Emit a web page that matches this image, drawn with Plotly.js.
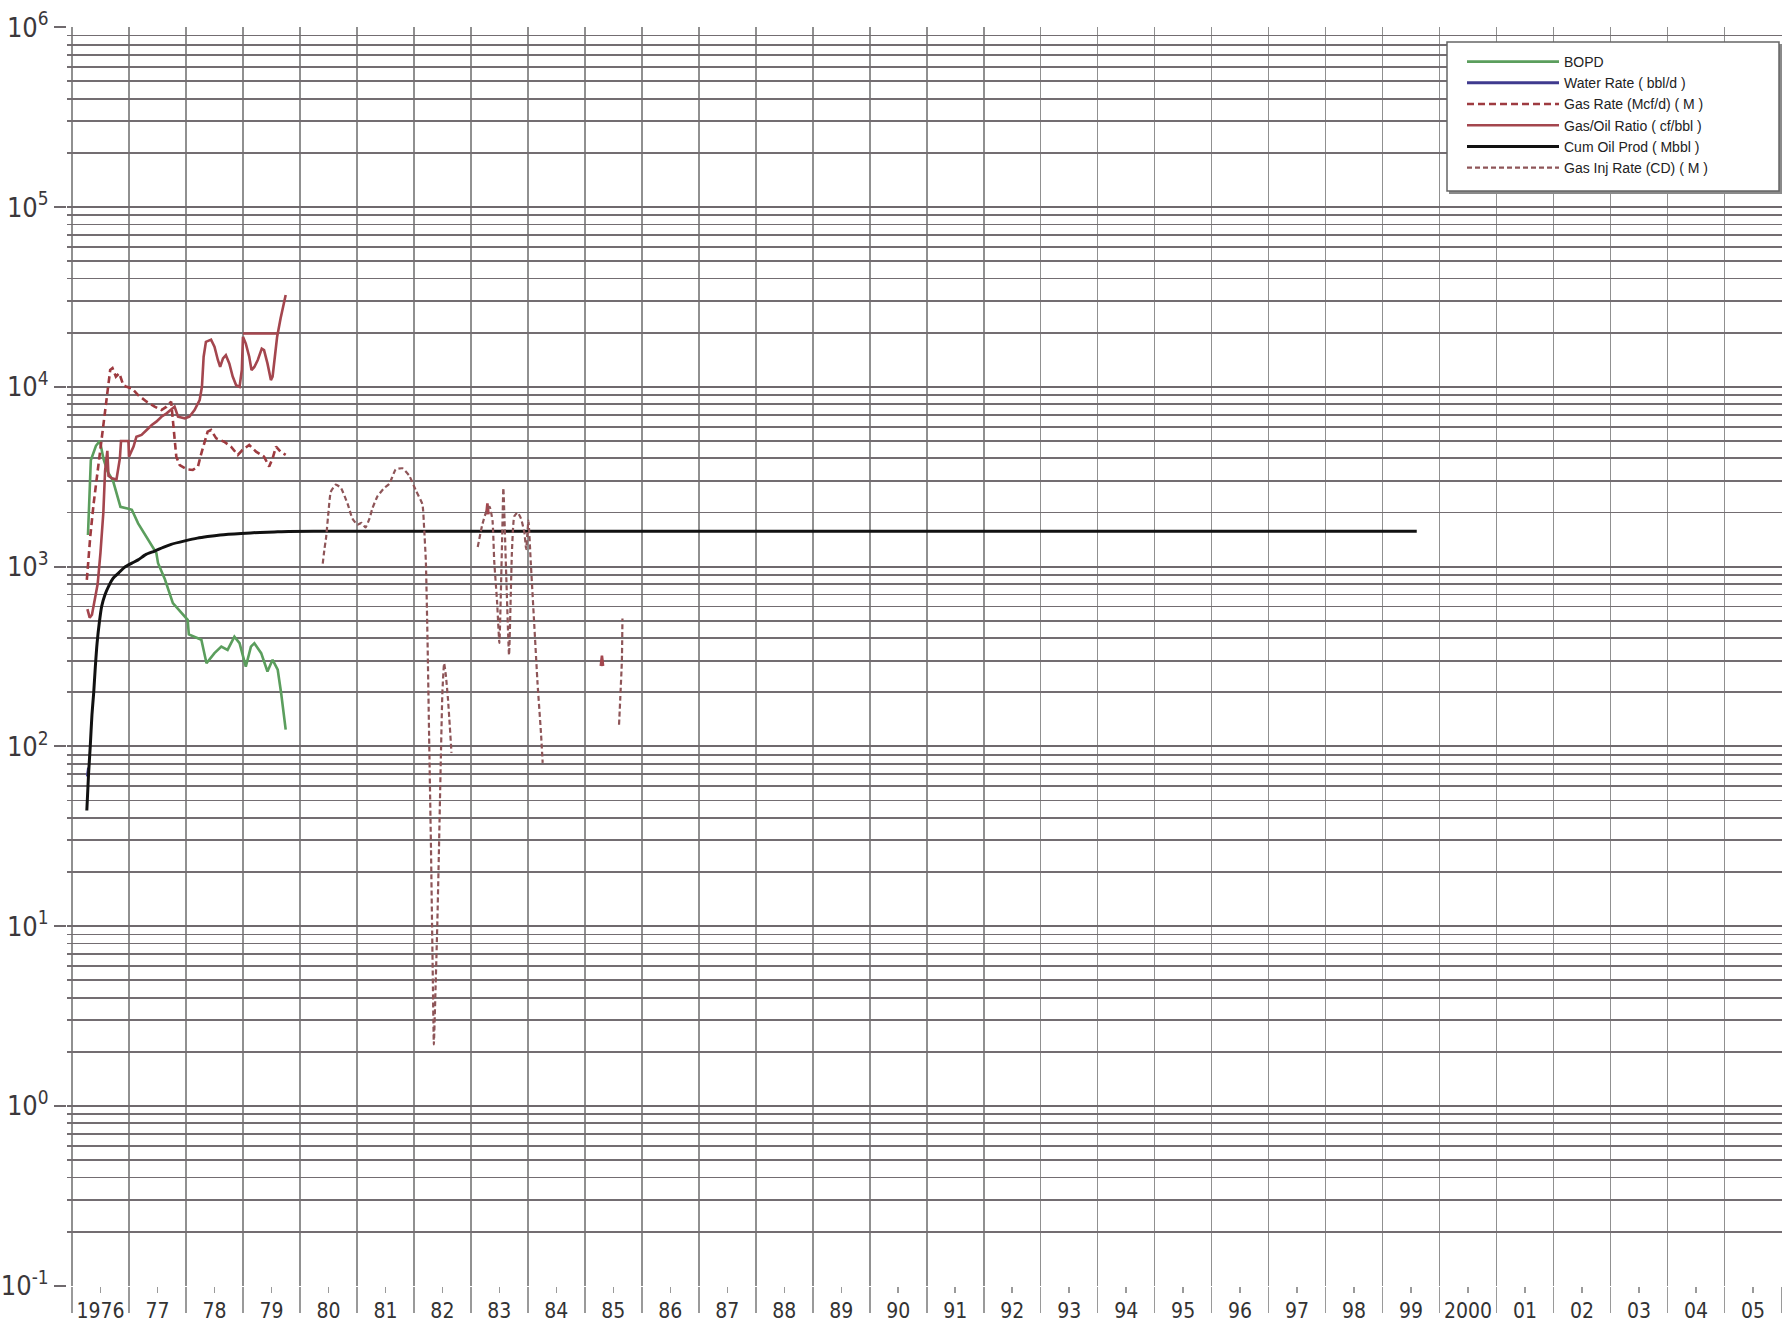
<!DOCTYPE html>
<html>
<head>
<meta charset="utf-8">
<script src="https://cdn.plot.ly/plotly-3.0.1.min.js"></script>
<style>
html,body{margin:0;padding:0;background:#fff;}
#chart{width:1790px;height:1325px;}
</style>
</head>
<body>
<div id="chart"></div>
<script>
// ---------- tick labels ----------
const yearLabelPositions = [1976.5,1977.5,1978.5,1979.5,1980.5,1981.5,1982.5,1983.5,1984.5,1985.5,1986.5,1987.5,1988.5,1989.5,1990.5,1991.5,1992.5,1993.5,1994.5,1995.5,1996.5,1997.5,1998.5,1999.5,2000.5,2001.5,2002.5,2003.5,2004.5,2005.5];
const yearLabels = ['1976','77','78','79','80','81','82','83','84','85','86','87','88','89','90','91','92','93','94','95','96','97','98','99','2000','01','02','03','04','05'];
const decadeValues = [0.1,1,10,100,1000,10000,100000,1000000];
const decadeLabels = ['10<sup>-1</sup>','10<sup>0</sup>','10<sup>1</sup>','10<sup>2</sup>','10<sup>3</sup>','10<sup>4</sup>','10<sup>5</sup>','10<sup>6</sup>'];

// ---------- series ----------
const bopdYears = [1976.28,1976.33,1976.42,1976.49,1976.55,1976.62,1976.72,1976.85,1976.99,1977.05,1977.16,1977.34,1977.48,1977.51,1977.63,1977.77,1977.90,1978.03,1978.05,1978.27,1978.36,1978.50,1978.62,1978.73,1978.85,1978.94,1979.05,1979.14,1979.20,1979.32,1979.43,1979.52,1979.61,1979.67,1979.75];
const bopdValues = [1500,3900,4700,5000,4000,3400,3000,2150,2100,2070,1740,1410,1190,1045,850,626,560,506,420,392,290,330,359,344,408,375,278,359,375,330,261,303,267,198,124];

const waterYears = [1976.27,1976.29];
const waterValues = [68,76];

const gasRateYears = [1976.26,1976.32,1976.38,1976.45,1976.52,1976.60,1976.64,1976.67,1976.71,1976.77,1976.83,1976.90,1976.96,1977.05,1977.16,1977.31,1977.45,1977.57,1977.66,1977.74,1977.77,1977.80,1977.83,1977.89,1978.01,1978.12,1978.21,1978.27,1978.33,1978.38,1978.44,1978.53,1978.67,1978.79,1978.91,1978.99,1979.11,1979.23,1979.37,1979.46,1979.52,1979.58,1979.66,1979.75];
const gasRateValues = [843,1470,2250,3450,5280,8090,10450,12400,12700,11400,11900,10200,10000,9800,9000,8270,7760,7430,7760,8270,6540,4850,4090,3670,3480,3450,3600,4270,5060,5630,5750,5170,4950,4650,4180,4450,4750,4360,4090,3600,4000,4650,4360,4180];

const gorYears = [1976.27,1976.31,1976.35,1976.45,1976.50,1976.55,1976.58,1976.62,1976.64,1976.70,1976.78,1976.82,1976.84,1976.86,1976.95,1976.99,1977.00,1977.08,1977.13,1977.22,1977.31,1977.40,1977.48,1977.57,1977.66,1977.74,1977.80,1977.86,1977.98,1978.06,1978.15,1978.24,1978.28,1978.31,1978.35,1978.44,1978.50,1978.56,1978.60,1978.65,1978.70,1978.76,1978.82,1978.88,1978.94,1978.98,1979.00,1979.05,1979.11,1979.15,1979.20,1979.26,1979.33,1979.37,1979.43,1979.49,1979.52,1979.56,1979.60,1979.66,1979.75,null,1979.00,1979.60,null,1983.27,1983.29,1983.31,null,1985.28,1985.30,1985.32];
const gorValues = [580,520,540,800,1200,2000,3400,4400,3200,3100,3050,3600,4000,5000,5000,5000,4090,4650,5280,5400,5750,6130,6400,6820,7120,7430,7760,6820,6680,6820,7430,8450,10000,14700,17800,18300,16700,14100,12900,14400,15000,13500,11400,10200,10000,12400,19000,17400,14700,12400,12900,14100,16300,16000,13500,10900,11400,14700,19000,24000,32400,null,19800,19800,null,1950,2250,1950,null,280,320,280];

const cumOilYears = [1976.26,1976.29,1976.32,1976.35,1976.38,1976.41,1976.44,1976.48,1976.52,1976.58,1976.64,1976.72,1976.82,1976.92,1977.05,1977.16,1977.30,1977.45,1977.60,1977.74,1977.98,1978.20,1978.38,1978.60,1978.97,1979.30,1979.55,1979.80,1980.50,1999.60];
const cumOilValues = [44,70,100,150,198,280,375,490,600,700,774,860,923,990,1045,1090,1170,1220,1280,1330,1390,1440,1470,1500,1530,1550,1560,1570,1575,1575];

const gasInjYears = [1980.40,1980.43,1980.46,1980.50,1980.54,1980.63,1980.72,1980.84,1980.92,1981.01,1981.08,1981.15,1981.22,1981.27,1981.36,1981.48,1981.57,1981.68,1981.80,1981.92,1982.03,1982.15,1982.18,1982.21,1982.24,1982.27,1982.30,1982.33,1982.35,1982.38,1982.41,1982.44,1982.47,1982.50,1982.53,1982.56,1982.60,1982.66,null,1983.12,1983.20,1983.29,1983.33,1983.38,1983.41,1983.46,1983.50,1983.55,1983.57,1983.62,1983.67,1983.72,1983.76,1983.82,1983.88,1983.94,1983.97,1984.01,1984.05,1984.11,1984.17,1984.23,1984.26,null,1985.60,1985.62,1985.65,1985.66];
const gasInjValues = [1040,1250,1460,2000,2600,2860,2740,2220,1850,1710,1750,1650,1850,2100,2460,2740,2890,3470,3520,3200,2670,2220,1630,1070,380,100,27,5.7,2.2,4.5,10,27,78,200,290,250,180,92,null,1285,1710,2110,2150,1800,1070,636,376,1500,2740,900,322,1200,1900,2000,1850,1540,1250,1800,1070,490,224,119,81,null,132,180,300,515];

// ---------- grid helpers ----------
const yearBoundaries = [];
for (let y = 1976; y <= 2006; y++) yearBoundaries.push(y);
const minorLogValues = [];
for (let e = -1; e < 6; e++) for (let k = 2; k <= 9; k++) minorLogValues.push(k * Math.pow(10, e));

const narrow = "'Liberation Sans Narrow', 'DejaVu Sans Condensed', 'Liberation Sans', Arial, sans-serif";
const regular = "'Liberation Sans', Arial, sans-serif";

const traces = [
  {x: bopdYears, y: bopdValues, name: 'BOPD', mode: 'lines',
   line: {color: '#5b9e5d', width: 2.6}},
  {x: waterYears, y: waterValues, name: 'Water Rate ( bbl/d )', mode: 'lines',
   line: {color: '#3f3a8e', width: 3}},
  {x: gasRateYears, y: gasRateValues, name: 'Gas Rate (Mcf/d) ( M )', mode: 'lines',
   line: {color: '#9e3b40', width: 2.6, dash: '7px,4px'}},
  {x: gorYears, y: gorValues, name: 'Gas/Oil Ratio ( cf/bbl )', mode: 'lines',
   line: {color: '#a4464e', width: 2.6}},
  {x: cumOilYears, y: cumOilValues, name: 'Cum Oil Prod ( Mbbl )', mode: 'lines',
   line: {color: '#111111', width: 3, shape: 'spline', smoothing: 0.6}},
  {x: gasInjYears, y: gasInjValues, name: 'Gas Inj Rate (CD) ( M )', mode: 'lines',
   line: {color: '#8e5558', width: 2.2, dash: '5px,3px', shape: 'spline', smoothing: 0.4}}
];

const px = v => (v - 67) / 1715;
const py = v => 1 - (v - 27) / 1259;

const layout = {
  width: 1790, height: 1325,
  margin: {l: 67, r: 8, t: 27, b: 39, pad: 0},
  paper_bgcolor: '#ffffff', plot_bgcolor: '#ffffff',
  showlegend: true,
  xaxis: {
    type: 'linear', range: [1975.912, 2006.01],
    tickmode: 'array', tickvals: yearLabelPositions, ticktext: yearLabels,
    showgrid: false, zeroline: false, showline: false,
    ticks: 'outside', ticklen: 6, tickwidth: 1.5, tickcolor: '#9a9a9a',
    ticklabelstandoff: 0,
    tickfont: {family: narrow, size: 21, color: '#333333'},
    minor: {tickmode: 'array', tickvals: yearBoundaries, showgrid: true,
            gridcolor: '#909090', gridwidth: 1.6,
            ticks: 'outside', ticklen: 26, tickwidth: 1.6, tickcolor: '#9a9a9a'}
  },
  yaxis: {
    type: 'log', range: [-1.0015, 6.0015],
    tickmode: 'array', tickvals: decadeValues, ticktext: decadeLabels,
    showgrid: true, gridcolor: '#6f696d', gridwidth: 2,
    zeroline: false, showline: false,
    ticks: 'outside', ticklen: 12, tickwidth: 2, tickcolor: '#6f696d',
    tickfont: {family: narrow, size: 27, color: '#3b383b'},
    minor: {tickmode: 'array', tickvals: minorLogValues, showgrid: true,
            gridcolor: '#736d71', gridwidth: 1.8, ticks: ''}
  },
  legend: {
    x: px(1462), y: py(46), xanchor: 'left', yanchor: 'top',
    bgcolor: 'rgba(0,0,0,0)', borderwidth: 0,
    itemwidth: 92, tracegroupgap: 0,
    font: {family: regular, size: 14, color: '#222222'}
  },
  shapes: [
    {type: 'rect', xref: 'paper', yref: 'paper', layer: 'above',
     x0: px(1449), x1: px(1782), y0: py(194), y1: py(44),
     fillcolor: '#8a8a8a', line: {width: 0}},
    {type: 'rect', xref: 'paper', yref: 'paper', layer: 'above',
     x0: px(1447), x1: px(1779), y0: py(191), y1: py(42),
     fillcolor: '#ffffff', line: {color: '#666666', width: 1.5}}
  ]
};

Plotly.newPlot('chart', traces, layout, {displayModeBar: false, staticPlot: true});
</script>
</body>
</html>
